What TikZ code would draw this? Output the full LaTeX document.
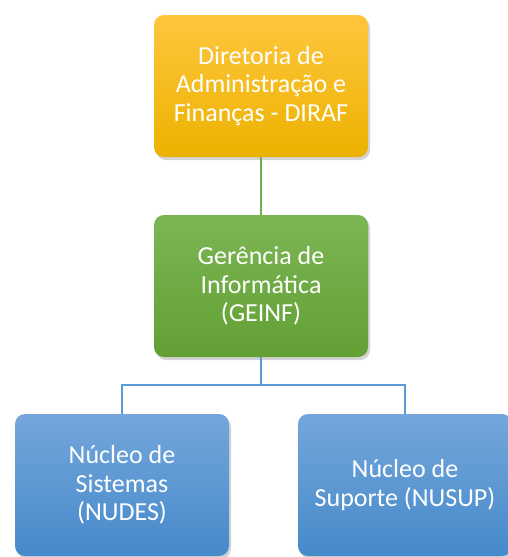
\documentclass[tikz,border=0pt]{standalone}
\usepackage{fontspec}
\setmainfont{Carlito}
\usetikzlibrary{shadows}

\definecolor{goldtop}{RGB}{255,198,62}
\definecolor{goldbot}{RGB}{236,178,0}
\definecolor{greentop}{RGB}{124,182,84}
\definecolor{greenbot}{RGB}{98,160,52}
\definecolor{bluetop}{RGB}{116,166,219}
\definecolor{bluebot}{RGB}{70,138,202}
\definecolor{greenline}{RGB}{112,173,71}
\definecolor{blueline}{RGB}{91,155,213}

\tikzset{
    unitbox/.style={rounded corners=10pt, minimum width=214pt, minimum height=142pt,
        align=center, text=white, font=\fontsize{26}{28.5}\selectfont,
        drop shadow={shadow xshift=2pt, shadow yshift=-3pt, opacity=0.35}},
    diretoria/.style={unitbox, top color=goldtop, bottom color=goldbot},
    gerencia/.style={unitbox, top color=greentop, bottom color=greenbot},
    nucleo/.style={unitbox, top color=bluetop, bottom color=bluebot},
    link/.style={line width=1.8pt}
}

\begin{document}
\begin{tikzpicture}[x=1pt, y=1pt]
    \useasboundingbox (0,0) rectangle (507,-557);

    % Top level
    \node[diretoria] (diraf) at (261,-86) {Diretoria de\\Administração e\\Finanças - DIRAF};

    % Middle level
    \node[gerencia] (geinf) at (261,-286) {Gerência de\\Informática\\(GEINF)};

    % Bottom level
    \node[nucleo] (nudes) at (122,-485) {Núcleo de\\Sistemas\\(NUDES)};
    \node[nucleo] (nusup) at (405,-485) {Núcleo de\\Suporte (NUSUP)};

    % Connectors
    \draw[link, greenline] (diraf) -- (geinf);
    \draw[link, blueline] (geinf.south) -- ++(0,-28) -| (nudes.north);
    \draw[link, blueline] (geinf.south) -- ++(0,-28) -| (nusup.north);
\end{tikzpicture}
\end{document}
